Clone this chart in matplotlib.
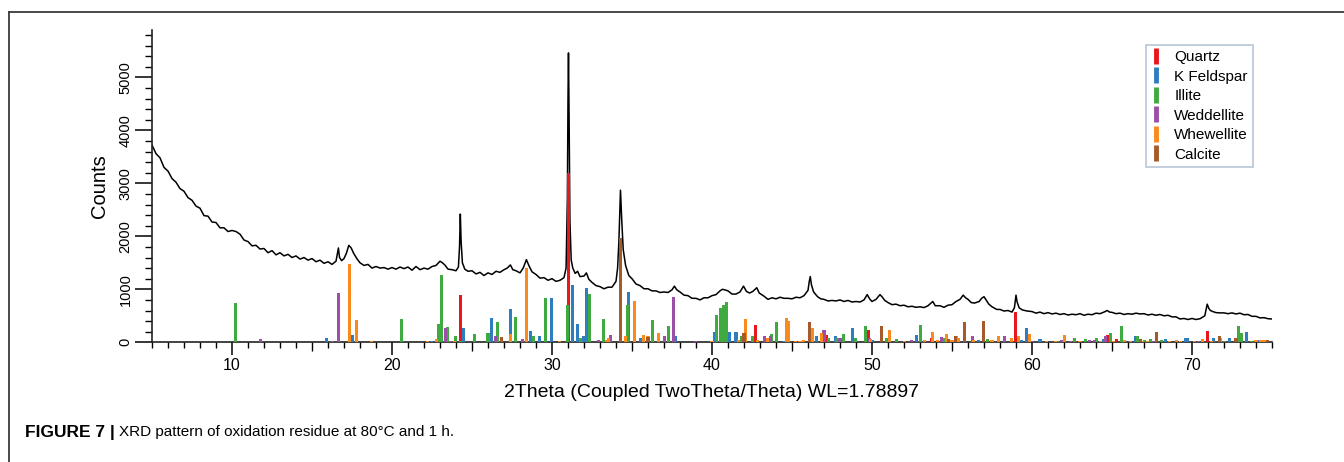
import matplotlib
matplotlib.use("Agg")
import matplotlib.pyplot as plt
from matplotlib.lines import Line2D

plt.rcParams['font.family'] = ['Liberation Sans', 'DejaVu Sans']

# measured scan, 2theta (deg) and counts
tth = [
    5.00, 5.25, 5.50, 5.75,
    6.00, 6.25, 6.50, 6.75,
    7.00, 7.25, 7.50, 7.75,
    8.00, 8.25, 8.50, 8.75,
    9.00, 9.25, 9.50, 9.75,
    10.00, 10.25, 10.50, 10.75,
    11.00, 11.25, 11.50, 11.75,
    12.00, 12.25, 12.50, 12.75,
    13.00, 13.25, 13.50, 13.75,
    14.00, 14.25, 14.50, 14.75,
    15.00, 15.25, 15.50, 15.75,
    16.00, 16.25, 16.50, 16.60, 16.65, 16.72, 16.85,
    17.00, 17.15, 17.30, 17.45, 17.60, 17.80,
    18.00, 18.25, 18.50, 18.75,
    19.00, 19.25, 19.50, 19.75,
    20.00, 20.25, 20.50, 20.75,
    21.00, 21.25, 21.50, 21.75,
    22.00, 22.25, 22.50, 22.75,
    23.00, 23.15, 23.30, 23.50, 23.75,
    24.00, 24.15, 24.22, 24.27, 24.32, 24.40, 24.55, 24.75,
    25.00, 25.25, 25.50, 25.75,
    26.00, 26.25, 26.50, 26.75,
    27.00, 27.20, 27.40, 27.55, 27.75,
    28.00, 28.20, 28.40, 28.55, 28.75,
    29.00, 29.25, 29.50, 29.75,
    30.00, 30.25, 30.50, 30.75, 30.88, 30.96, 31.00, 31.03, 31.07, 31.12, 31.20,
    31.30, 31.45, 31.60, 31.75,
    32.00, 32.15, 32.30, 32.50, 32.75,
    33.00, 33.25, 33.50, 33.75,
    34.00, 34.10, 34.18, 34.28, 34.36, 34.45, 34.60, 34.80,
    35.00, 35.25, 35.50, 35.75,
    36.00, 36.25, 36.50, 36.75,
    37.00, 37.25, 37.50, 37.65, 37.80,
    38.00, 38.25, 38.50, 38.75,
    39.00, 39.25, 39.50, 39.75,
    40.00, 40.25, 40.50, 40.65, 40.80,
    41.00, 41.25, 41.50, 41.75, 41.97,
    42.15, 42.35, 42.55, 42.80, 42.95,
    43.25, 43.50, 43.75,
    44.00, 44.25, 44.50, 44.75,
    45.00, 45.25, 45.50, 45.75,
    46.00, 46.08, 46.14, 46.22, 46.35, 46.60, 46.80,
    47.00, 47.25, 47.50, 47.75,
    48.00, 48.25, 48.50, 48.75,
    49.00, 49.25, 49.50, 49.70, 49.85,
    50.00, 50.25, 50.50, 50.65, 50.80,
    51.00, 51.25, 51.50, 51.75,
    52.00, 52.25, 52.50, 52.75,
    53.00, 53.25, 53.50, 53.80, 53.95,
    54.25, 54.50, 54.75,
    55.00, 55.25, 55.50, 55.70, 55.85,
    56.00, 56.20, 56.40, 56.70, 56.85,
    57.00, 57.15, 57.30, 57.50, 57.80,
    58.00, 58.25, 58.50, 58.75, 58.90,
    59.00, 59.07, 59.20, 59.40, 59.70,
    60.00, 60.25, 60.50, 60.75,
    61.00, 61.25, 61.50, 61.75,
    62.00, 62.25, 62.50, 62.75,
    63.00, 63.25, 63.50, 63.75,
    64.00, 64.25, 64.50, 64.70, 64.85,
    65.00, 65.25, 65.50, 65.75,
    66.00, 66.25, 66.50, 66.75,
    67.00, 67.25, 67.50, 67.75,
    68.00, 68.25, 68.50, 68.75,
    69.00, 69.25, 69.50, 69.75,
    70.00, 70.25, 70.50, 70.80, 70.95, 71.05, 71.15, 71.30, 71.50, 71.75,
    72.00, 72.25, 72.50, 72.75,
    73.00, 73.25, 73.50, 73.75,
    74.00, 74.25, 74.50, 74.75,
    75.00,
]
counts = [
    3720, 3560, 3480, 3300,
    3230, 3090, 3020, 2900,
    2850, 2730, 2680, 2570,
    2530, 2390, 2380, 2270,
    2260, 2160, 2160, 2090,
    2110, 2090, 2040, 1930,
    1900, 1820, 1830, 1760,
    1770, 1690, 1730, 1650,
    1690, 1630, 1660, 1600,
    1630, 1570, 1600, 1550,
    1580, 1520, 1550, 1490,
    1520, 1470, 1530, 1700, 1780, 1600, 1540,
    1580, 1680, 1830, 1780, 1680, 1580,
    1500, 1450, 1470, 1400,
    1430, 1400, 1410, 1380,
    1410, 1380, 1420, 1390,
    1420, 1360, 1430, 1370,
    1400, 1380, 1430, 1450,
    1530, 1500, 1460, 1380, 1370,
    1350, 1420, 1800, 2420, 1900, 1500, 1380, 1340,
    1350, 1290, 1320, 1260,
    1310, 1280, 1340, 1320,
    1370, 1400, 1460, 1370, 1350,
    1310, 1400, 1560, 1450, 1330,
    1280, 1210, 1220, 1170,
    1200, 1150, 1170, 1220, 1400, 2700, 4600, 5460, 4200, 2300, 1550,
    1400, 1300, 1340, 1240,
    1250, 1310, 1190, 1130, 1070,
    1050, 1010, 1040, 1040,
    1150, 1400, 1900, 2870, 2300, 1750, 1450, 1260,
    1200, 1100, 1070, 1010,
    1010, 970, 970, 940,
    950, 940, 990, 1060, 990,
    950, 890, 880, 830,
    830, 800, 840, 840,
    880, 900, 970, 1000, 990,
    970, 910, 910, 950, 1060,
    960, 930, 960, 1030, 930,
    870, 810, 840,
    820, 850, 830, 830,
    820, 850, 840, 880,
    980, 1150, 1240, 1080, 950, 860, 820,
    810, 780, 790, 780,
    800, 770, 790, 760,
    770, 760, 800, 900, 820,
    770, 810, 900, 850, 790,
    750, 710, 720, 690,
    700, 670, 680, 660,
    670, 655, 690, 770, 690,
    690, 660, 700,
    710, 770, 810, 890, 840,
    810, 750, 740, 770, 830,
    860, 790, 720, 670, 620,
    620, 590, 600, 570, 650,
    890, 760, 650, 610, 590,
    580, 550, 570, 540,
    560, 535, 550, 525,
    540, 515, 530, 520,
    540, 510, 530, 520,
    550, 540, 570, 600, 570,
    565, 540, 550, 525,
    540, 530, 550, 535,
    540, 515, 530, 510,
    525, 500, 510, 480,
    480, 440, 450, 430,
    450, 430, 445, 500, 720, 640, 600, 580, 560, 555,
    555, 540, 555, 535,
    550, 520, 525, 490,
    490, 460, 465, 445,
    440,
]

# reference stick patterns per phase: positions (deg) and heights (counts)
quartz_pos = [24.27, 31.05, 42.74, 47.15, 49.75, 53.70, 58.98, 64.70, 65.30, 70.94]
quartz_h = [900, 3200, 325, 135, 230, 75, 577, 130, 60, 220]

kfeld_pos = [15.88, 17.54, 22.47, 24.44, 26.20, 27.40, 28.65, 29.22, 29.96, 31.28,
             31.60, 32.00, 32.16, 34.78, 35.54, 37.72, 40.15, 41.07, 41.50, 44.45,
             46.56, 47.70, 48.80, 50.04, 52.80, 53.80, 56.68, 59.35, 59.67, 60.50,
             64.50, 66.50, 68.37, 69.58, 69.72, 71.35, 72.33, 73.38, 74.10]
kfeld_h = [80, 130, 20, 265, 450, 620, 215, 110, 840, 1090,
           340, 110, 1020, 955, 75, 110, 200, 200, 200, 30,
           110, 110, 275, 50, 130, 115, 50, 50, 265, 60,
           70, 110, 65, 75, 75, 75, 90, 200, 40]

illite_pos = [10.24, 20.57, 22.90, 23.07, 23.49, 23.97, 24.30, 25.16, 26.00, 26.58,
              27.71, 28.84, 29.61, 30.98, 31.80, 32.32, 33.20, 34.72, 36.27, 37.27,
              40.30, 40.55, 40.75, 40.92, 41.86, 42.55, 43.70, 44.05, 47.30, 47.80,
              48.20, 48.96, 49.60, 50.90, 51.56, 53.03, 54.50, 57.20, 61.60, 62.67,
              63.36, 64.03, 64.88, 65.60, 66.62, 67.04, 67.40, 68.10, 72.05, 72.90,
              73.10, 73.70]
illite_h = [735, 440, 340, 1270, 295, 120, 20, 155, 170, 390,
            485, 115, 830, 705, 75, 905, 435, 700, 420, 305,
            520, 640, 700, 760, 110, 120, 155, 390, 75, 75,
            155, 75, 300, 75, 60, 325, 75, 60, 30, 75,
            60, 75, 180, 300, 110, 40, 60, 40, 30, 310,
            180, 25]

weddel_pos = [11.76, 16.29, 16.65, 23.35, 23.66, 26.46, 28.15, 32.88, 33.66, 37.06,
              37.58, 38.98, 43.30, 43.63, 47.00, 48.00, 49.85, 52.46, 54.32, 56.26,
              58.29, 60.00, 61.84, 62.40, 63.60, 63.90, 64.60, 67.60, 70.40]
weddel_h = [60, 30, 925, 265, 20, 110, 60, 50, 130, 120,
            860, 25, 110, 120, 240, 75, 75, 50, 100, 120,
            120, 25, 50, 25, 50, 50, 110, 30, 25]

whewel_pos = [17.34, 17.77, 18.70, 21.60, 22.20, 22.80, 23.90, 27.40, 28.40, 30.48,
              33.40, 33.52, 34.60, 35.14, 35.74, 36.00, 36.64, 40.00, 41.65, 42.07,
              42.86, 43.47, 44.68, 44.80, 45.20, 45.50, 45.70, 46.25, 46.87, 49.90,
              51.10, 52.04, 53.27, 53.76, 54.07, 54.65, 55.00, 55.30, 55.40, 56.34,
              57.50, 57.93, 58.70, 59.18, 59.87, 60.92, 61.48, 62.05, 63.00, 64.30,
              65.10, 65.80, 66.15, 66.90, 67.20, 68.60, 69.05, 69.30, 70.15, 70.67,
              71.20, 71.80, 74.00, 74.30, 74.50]
whewel_h = [1480, 420, 20, 15, 30, 60, 30, 160, 1400, 30,
            35, 80, 120, 780, 135, 120, 180, 20, 50, 435,
            40, 80, 450, 410, 30, 30, 50, 265, 170, 60,
            240, 30, 40, 200, 50, 155, 40, 110, 75, 50,
            50, 110, 90, 110, 155, 25, 30, 130, 25, 25,
            30, 40, 25, 30, 30, 25, 45, 25, 30, 70,
            25, 75, 40, 40, 40]

calcite_pos = [26.83, 34.28, 36.00, 42.00, 46.10, 50.60, 54.80, 55.22, 55.78, 56.99,
               66.80, 67.80, 71.70, 72.75, 74.70]
calcite_h = [105, 1960, 105, 170, 390, 300, 60, 120, 375, 400,
             65, 185, 110, 90, 50]

phases = [
    ("Quartz", quartz_pos, quartz_h, "#e8161d"),
    ("K Feldspar", kfeld_pos, kfeld_h, "#2e7dbf"),
    ("Illite", illite_pos, illite_h, "#3eaa3f"),
    ("Weddellite", weddel_pos, weddel_h, "#9b4fa6"),
    ("Whewellite", whewel_pos, whewel_h, "#fb8a1c"),
    ("Calcite", calcite_pos, calcite_h, "#a45a2a"),
]

fig = plt.figure(figsize=(13.44, 4.62), dpi=100)
ax = fig.add_axes([152 / 1344, 1 - 342.3 / 462, 1120 / 1344, 312.7 / 462])

ax.plot(tth, counts, color="black", lw=1.1, zorder=2)

handles = []
for name, pos, h, col in phases:
    ax.bar(pos, h, width=0.19, color=col, linewidth=0, zorder=3)
    handles.append(Line2D([], [], linestyle="none", marker="|", markersize=11,
                          markeredgewidth=3.5, color=col, label=name))

ax.set_xlim(5, 75)
ax.set_ylim(0, 5900)
for side in ("top", "right"):
    ax.spines[side].set_visible(False)
for side in ("left", "bottom"):
    ax.spines[side].set_linewidth(1.2)
    ax.spines[side].set_color("#222222")

ax.set_xticks(range(10, 71, 10))
ax.set_xticks([v for v in range(5, 76) if v % 5 != 0] + [5, 75], minor=True)
ax.set_yticks(range(0, 5001, 1000))
ax.set_yticks(range(0, 5801, 200), minor=True)
ax.tick_params(axis="x", which="major", length=9, width=1.1, labelsize=11.5, pad=2)
ax.tick_params(axis="x", which="minor", length=4, width=1.0)
ax.tick_params(axis="y", which="major", length=12, width=1.1, labelsize=10.5, pad=2)
ax.tick_params(axis="y", which="minor", length=5, width=1.0)
for lab in ax.get_yticklabels():
    lab.set_rotation(90)
    lab.set_va("center")

# medium ticks at the odd fives
sec = ax.secondary_xaxis("bottom")
sec.set_xticks([15, 25, 35, 45, 55, 65])
sec.set_xticklabels([])
sec.tick_params(length=6.5, width=1.0)
sec.spines["bottom"].set_visible(False)

ax.set_ylabel("Counts", fontsize=14.5, labelpad=7)
ax.set_xlabel("2Theta (Coupled TwoTheta/Theta) WL=1.78897", fontsize=14, labelpad=8)

leg = ax.legend(handles=handles, loc="upper left", bbox_to_anchor=(0.8875, 0.951),
                borderaxespad=0, fontsize=11, frameon=True, fancybox=False,
                handlelength=0.6, handletextpad=0.9, labelspacing=0.36,
                borderpad=0.35)
leg.get_frame().set_edgecolor("#a6b8cc")
leg.get_frame().set_linewidth(1.2)

# page frame and caption
fig.add_artist(Line2D([9 / 1344, 1], [1 - 12 / 462] * 2, transform=fig.transFigure,
                      color="#3a3a3a", lw=1.3))
fig.add_artist(Line2D([9 / 1344] * 2, [0, 1 - 12 / 462], transform=fig.transFigure,
                      color="#3a3a3a", lw=1.3))
t1 = fig.text(25 / 1344, 1 - 432 / 462, "FIGURE 7 |", fontsize=12.5, fontweight="bold",
              va="center", ha="left")
fig.canvas.draw()
bb = t1.get_window_extent()
fig.text((bb.x1 + 4) / fig.bbox.width, 1 - 432 / 462,
         "XRD pattern of oxidation residue at 80°C and 1 h.", fontsize=11,
         va="center", ha="left")

fig.savefig("out.png", dpi=100)
